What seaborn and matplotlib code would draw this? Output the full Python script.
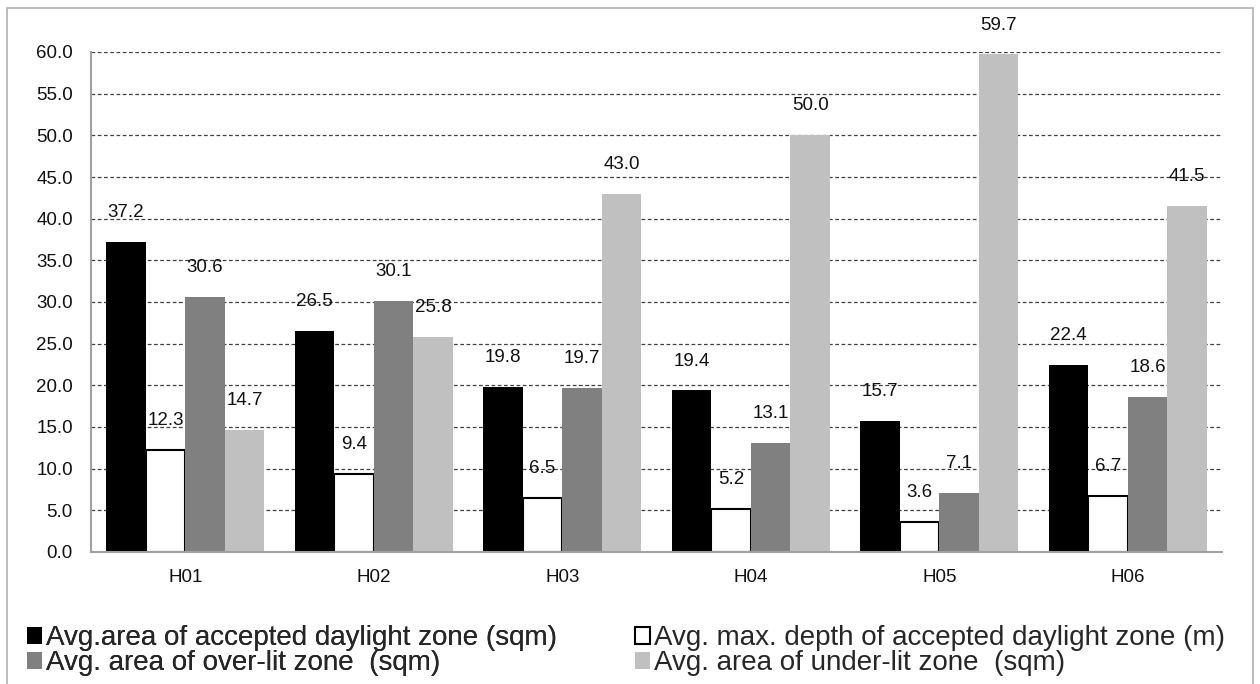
import matplotlib
matplotlib.use("Agg")
import matplotlib.pyplot as plt
from matplotlib.patches import Patch, Rectangle
import seaborn as sns
import pandas as pd

houses = ["H01", "H02", "H03", "H04", "H05", "H06"]
series = [
    "Avg.area of accepted daylight zone (sqm)",
    "Avg. max. depth of accepted daylight zone (m)",
    "Avg. area of over-lit zone  (sqm)",
    "Avg. area of under-lit zone  (sqm)",
]
accepted = [37.2, 26.5, 19.8, 19.4, 15.7, 22.4]
depth = [12.3, 9.4, 6.5, 5.2, 3.6, 6.7]
overlit = [30.6, 30.1, 19.7, 13.1, 7.1, 18.6]
underlit = [14.7, 25.8, 43.0, 50.0, 59.7, 41.5]
yticks = [0, 5, 10, 15, 20, 25, 30, 35, 40, 45, 50, 55, 60]

colors = ["#000000", "#ffffff", "#808080", "#c0c0c0"]

rows = []
for name, vals in zip(series, [accepted, depth, overlit, underlit]):
    for h, v in zip(houses, vals):
        rows.append({"house": h, "series": name, "value": v})
df = pd.DataFrame(rows)

sns.set_style("white")
plt.rcParams["font.family"] = ["Liberation Sans", "DejaVu Sans"]

fig = plt.figure(figsize=(12.6, 6.84), dpi=100)
ax = fig.add_axes([91 / 1260, 1 - 552 / 684, (1222 - 91) / 1260, 500 / 684])

sns.barplot(data=df, x="house", y="value", hue="series", hue_order=series,
            palette=dict(zip(series, colors)), width=0.84, saturation=1,
            legend=False, ax=ax, linewidth=0)

for i, cont in enumerate(ax.containers):
    for p in cont:
        if i == 1:
            p.set_edgecolor("#000000")
            p.set_linewidth(1.5)
        else:
            p.set_linewidth(0)
    ax.bar_label(cont, fmt="%.1f", padding=15, fontsize=13.5, color="#111111")

ax.set_xlim(-0.5, 5.5)
ax.set_ylim(0, 60)
ax.set_yticks(yticks)
ax.set_yticklabels([f"{t:.1f}" for t in yticks])
ax.set_xlabel("")
ax.set_ylabel("")
ax.tick_params(axis="both", length=0, labelsize=13.5, colors="#111111")
ax.tick_params(axis="y", pad=13)
ax.tick_params(axis="x", pad=12)
ax.set_axisbelow(True)
ax.yaxis.grid(True, linestyle=(0, (3, 2)), color="#404040", linewidth=0.9)
ax.xaxis.grid(False)
for s in ["top", "right"]:
    ax.spines[s].set_visible(False)
for s in ["left", "bottom"]:
    ax.spines[s].set_color("#a0a0a0")
    ax.spines[s].set_linewidth(1.5)

handles = [Patch(facecolor=c, edgecolor=("#000000" if c == "#ffffff" else c),
                 linewidth=(1.5 if c == "#ffffff" else 0)) for c in colors]
leg_kw = dict(loc="lower left", frameon=False, fontsize=20, handlelength=0.55,
              handleheight=0.55, handletextpad=0.15, labelspacing=-0.05,
              borderaxespad=0, borderpad=0)
leg1 = fig.legend([handles[0], handles[2]], [series[0], series[2]],
                  bbox_to_anchor=(27 / 1260, 8 / 684), **leg_kw)
fig.legend([handles[1], handles[3]], [series[1], series[3]],
           bbox_to_anchor=(635 / 1260, 8 / 684), **leg_kw)
fig.add_artist(leg1)

fig.patches.append(Rectangle((7 / 1260, -0.01), (1253 - 7) / 1260, 1 - 8 / 684 + 0.01,
                             transform=fig.transFigure, fill=False,
                             edgecolor="#b0b0b0", linewidth=1.2))

fig.savefig("out.png", dpi=100)
